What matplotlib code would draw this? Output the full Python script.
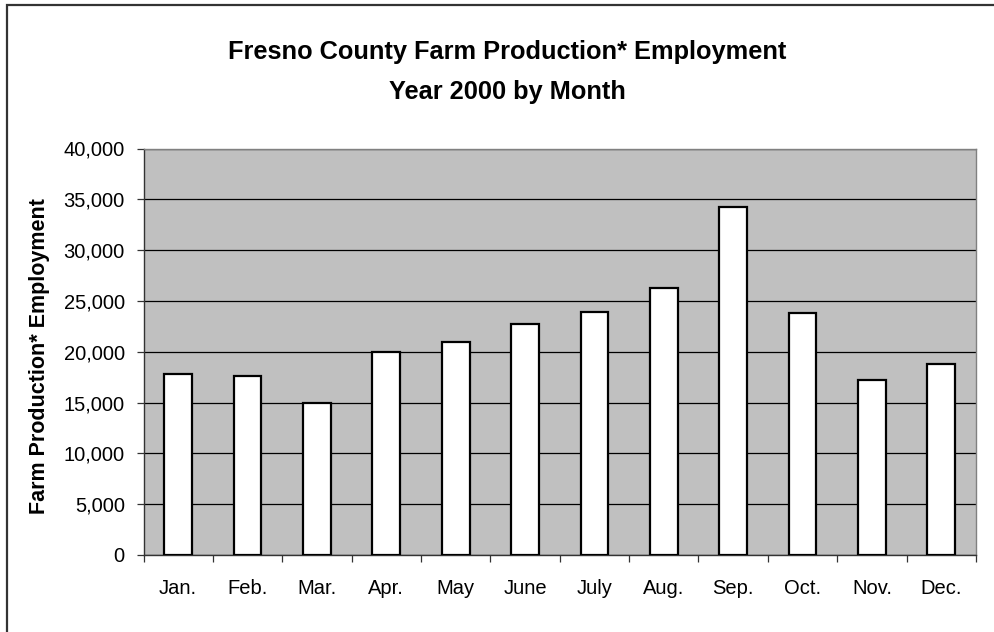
import matplotlib
matplotlib.use("Agg")
import matplotlib.pyplot as plt
from matplotlib.patches import Rectangle
from matplotlib.ticker import FuncFormatter, FixedLocator
import numpy as np

months = ["Jan.", "Feb.", "Mar.", "Apr.", "May", "June", "July", "Aug.", "Sep.", "Oct.", "Nov.", "Dec."]
employment = [17800, 17600, 15000, 20000, 21000, 22700, 23900, 26300, 34200, 23800, 17200, 18800]
y_ticks = [0, 5000, 10000, 15000, 20000, 25000, 30000, 35000, 40000]
title_line1 = "Fresno County Farm Production* Employment"
title_line2 = "Year 2000 by Month"
y_label = "Farm Production* Employment"

plt.rcParams['font.family'] = ['Liberation Sans', 'DejaVu Sans']

W, H = 995, 632
fig = plt.figure(figsize=(W / 100, H / 100), dpi=100)

# figure border (top and left visible)
fig.patches.append(Rectangle((7 / W, -0.05), 1.1, 1 - 5 / H + 0.05, transform=fig.transFigure,
                             fill=False, edgecolor="#333333", linewidth=1.6))

left, right, top, bottom = 143.5, 976, 148.5, 555
ax = fig.add_axes([left / W, (H - bottom) / H, (right - left) / W, (bottom - top) / H])
ax.set_facecolor("#C0C0C0")

x = np.arange(len(months))
ax.bar(x, employment, width=0.40, color="white", edgecolor="black", linewidth=1.6, zorder=3)

ax.set_xlim(-0.5, len(months) - 0.5)
ax.set_ylim(0, 40000)
ax.set_yticks(y_ticks)
ax.yaxis.set_major_formatter(FuncFormatter(lambda v, p: f"{int(v):,}"))
ax.yaxis.grid(True, color="black", linewidth=0.9, zorder=1)
ax.set_axisbelow(True)

ax.set_xticks(x)
ax.set_xticklabels(months)
ax.xaxis.set_minor_locator(FixedLocator(np.arange(-0.5, len(months), 1.0)))
ax.tick_params(axis="x", which="major", length=0, pad=17, labelsize=14.5)
ax.tick_params(axis="x", which="minor", length=5, width=0.9, direction="out", color="#333333")
ax.tick_params(axis="y", which="major", length=5, width=0.9, direction="out", labelsize=14.5,
               pad=8.5, color="#333333")

for s in ["left", "bottom"]:
    ax.spines[s].set_color("#333333")
    ax.spines[s].set_linewidth(1.0)
for s in ["top", "right"]:
    ax.spines[s].set_color("#808080")
    ax.spines[s].set_linewidth(1.0)

fig.text(507 / W, 1 - 52 / H, title_line1, ha="center", va="center", fontsize=18.3, fontweight="bold")
fig.text(507 / W, 1 - 92 / H, title_line2, ha="center", va="center", fontsize=18.3, fontweight="bold")
fig.text(40 / W, 1 - 356 / H, y_label, ha="center", va="center", rotation=90, fontsize=15.5,
         fontweight="bold")

fig.savefig("out.png", dpi=100)
